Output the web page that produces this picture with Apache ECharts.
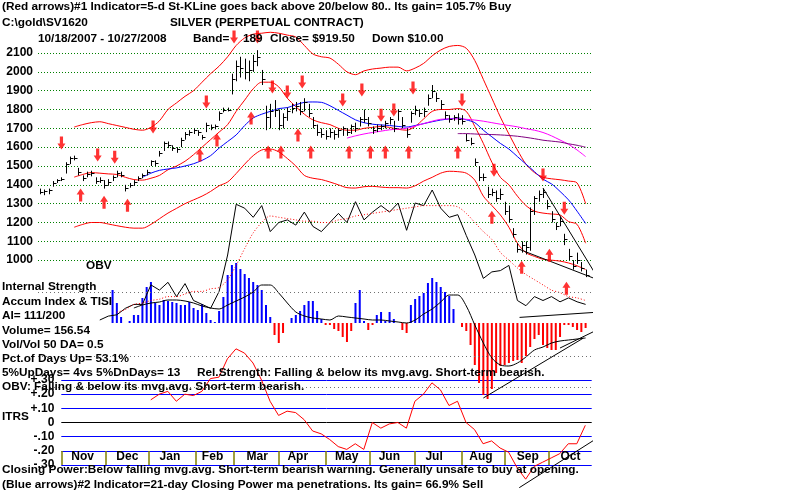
<!DOCTYPE html>
<html>
<head>
<meta charset="utf-8">
<script src="https://cdn.jsdelivr.net/npm/echarts@6/dist/echarts.min.js"></script>
<style>
  html, body { margin: 0; padding: 0; background: #fff; }
  #chart { width: 800px; height: 492px; }
</style>
</head>
<body>
<div id="chart"></div>
<script>
// one price bar every 2 trading days, starting 10/18/2007 (day 0)
const barHigh = [1380,1375,1380,1420,1430,1440,1520,1550,1555,1490,1450,1470,1475,1440,1440,1425,1430,1450,1475,1470,
  1400,1410,1425,1445,1460,1480,1530,1530,1580,1630,1630,1610,1600,1650,1680,1690,1700,1690,1665,1730,
  1720,1720,1790,1810,1810,1990,2060,2080,2070,2060,2090,2115,2010,1820,1830,1850,1800,1780,1810,1830,
  1840,1840,1860,1830,1760,1720,1700,1690,1700,1690,1700,1710,1700,1720,1730,1760,1800,1760,1710,1720,
  1720,1740,1760,1740,1800,1760,1700,1790,1820,1800,1810,1880,1930,1890,1850,1790,1770,1770,1780,1770,
  1670,1650,1540,1500,1460,1390,1380,1370,1380,1310,1290,1170,1090,1100,1100,1280,1340,1370,1380,1320,
  1260,1200,1230,1140,1060,1000,1040,990,950];
const barLow = [1350,1345,1350,1390,1410,1420,1460,1510,1530,1450,1420,1440,1445,1405,1410,1380,1395,1420,1440,1440,
  1365,1385,1395,1420,1435,1450,1500,1500,1550,1580,1595,1580,1570,1600,1640,1660,1670,1660,1640,1680,
  1690,1695,1740,1785,1790,1880,1950,1970,1960,1950,2000,2030,1930,1690,1700,1760,1690,1700,1740,1780,
  1790,1770,1790,1760,1700,1660,1650,1640,1650,1640,1650,1660,1660,1670,1680,1710,1730,1710,1670,1680,
  1690,1700,1720,1680,1740,1700,1650,1730,1770,1760,1760,1820,1860,1840,1800,1750,1730,1740,1720,1720,
  1630,1610,1500,1420,1420,1330,1340,1310,1320,1240,1200,1120,1040,1040,1030,1050,1240,1310,1330,1270,
  1200,1160,1180,1080,1000,950,980,940,910];
const barClose = [1360,1365,1370,1410,1425,1430,1510,1540,1545,1470,1435,1460,1465,1420,1425,1400,1415,1440,1465,1450,
  1385,1400,1415,1435,1450,1470,1525,1515,1570,1620,1610,1595,1590,1640,1670,1680,1690,1680,1655,1720,
  1705,1710,1780,1800,1800,1960,2030,2020,2000,2010,2060,2080,1960,1760,1790,1800,1720,1760,1790,1810,
  1820,1790,1840,1780,1720,1680,1670,1660,1680,1670,1690,1700,1680,1710,1700,1750,1750,1730,1690,1700,
  1710,1730,1750,1700,1790,1720,1670,1780,1800,1780,1790,1860,1900,1860,1830,1770,1750,1760,1750,1740,
  1640,1620,1520,1440,1440,1350,1360,1330,1350,1260,1220,1140,1060,1080,1070,1260,1330,1350,1360,1290,
  1220,1180,1210,1110,1020,970,1000,960,920];

// overlay lines, one point every 4 trading days
const upperBand = [null,null,null,null,1707,1720,1730,1735,1725,1715,1705,1695,1690,1705,1740,1800,1835,1870,1900,1945,
  1990,2030,2080,2140,2180,2200,2205,2210,2205,2195,2185,2140,2095,2080,2073,2040,2000,1985,2005,2015,
  2020,2025,2025,2005,2020,2045,2085,2116,2135,2140,2125,2060,1960,1860,1760,1670,1585,1510,1465,1440,
  1432,1427,1420,1410,1300];
const midAverage = [null,null,null,null,1441,1455,1465,1462,1458,1455,1440,1428,1425,1435,1450,1480,1500,1525,1560,1600,
  1640,1680,1720,1790,1850,1910,1945,1945,1920,1860,1815,1775,1745,1730,1720,1700,1690,1690,1700,1705,
  1710,1705,1695,1690,1710,1750,1790,1800,1800,1805,1790,1710,1620,1520,1440,1400,1340,1290,1260,1250,
  1245,1240,1205,1190,1090];
const lowerBand = [null,null,null,null,1175,1190,1200,1200,1192,1183,1175,1170,1170,1190,1220,1250,1275,1300,1320,1340,
  1365,1395,1415,1460,1510,1555,1585,1590,1575,1540,1500,1450,1435,1428,1415,1400,1385,1383,1390,1392,
  1388,1385,1385,1383,1395,1420,1440,1462,1472,1470,1462,1425,1340,1290,1240,1175,1090,1040,1020,1005,
  1000,995,985,970,950];
const blueAverage = [null,null,null,null,null,null,null,null,null,null,null,null,1440,1462,1477,1484,1490,1500,1512,1530,
  1555,1595,1630,1665,1715,1755,1775,1790,1805,1810,1825,1838,1840,1838,1820,1795,1770,1745,1730,1722,
  1718,1715,1710,1707,1715,1725,1735,1744,1750,1755,1745,1730,1690,1655,1620,1590,1550,1510,1470,1430,
  1405,1365,1320,1260,1195];
const magentaAverage = [null,null,null,null,null,null,null,null,null,null,null,null,null,null,null,null,null,null,null,null,
  null,null,null,null,null,null,null,null,null,null,null,null,null,null,null,null,1648,1660,1670,1678,
  1685,1692,1696,1700,1712,1725,1738,1748,1750,1750,1748,1744,1738,1730,1722,1715,1708,1698,1690,1678,
  1660,1638,1615,1585,1550];
const purpleAverage = [null,null,null,null,null,null,null,null,null,null,null,null,null,null,null,null,null,null,null,null,
  null,null,null,null,null,null,null,null,null,null,null,null,null,null,null,null,null,null,null,null,
  null,null,null,null,null,null,null,null,null,1672,1672,1670,1668,1667,1665,1662,1658,1652,1645,1637,
  1632,1627,1618,1610,1600];
const obv = [null,null,null,null,null,null,null,0,3,4,9,12,12,27,23,29,18,28,15,12,
  9,22,50,89,86,79,88,68,75,77,73,83,72,68,75,82,75,91,77,83,
  88,83,90,69,90,88,100,86,79,81,65,50,32,37,38,42,15,11,18,15,
  18,14,17,14,12];
const obvAverage = [null,null,null,null,null,null,null,null,null,6,8,12,13,15,16,18,18,20,22,22,
  24,25,31,42,55,67,75,80,79,78,77,76,76,75,75,77,78,80,81,82,
  83,84,85,86,87,88,88,88,88,87,82,75,68,62,52,46,40,35,31,27,
  23,21,18,17,15];
const aiAverage = [null,null,null,null,null,null,null,null,null,null,null,15,18,20,21,23,23,22,20,17,
  15,14,18,22,26,31,38,38,30,20,11,7,5,4,3,7,6,5,4,3,
  3,2,1,0,3,9,14,21,28,28,17,-2,-20,-35,-42,-43,-40,-34,-27,-24,
  -20,-18,-17,-16,-15];
const itrs = [null,null,null,null,null,null,null,null,null,null,null,null,null,0.16,0.20,0.22,0.15,0.20,0.19,0.22,
  0.31,0.32,0.45,0.52,0.49,0.42,0.30,0.15,0.05,0.08,0.07,0.02,-0.06,-0.08,-0.12,-0.17,-0.19,-0.15,-0.19,0.0,
  -0.04,-0.01,0.0,-0.04,0.15,0.20,0.28,0.23,0.12,0.15,0.0,-0.05,-0.15,-0.13,-0.18,-0.21,-0.32,-0.40,-0.31,-0.28,
  -0.25,-0.22,-0.15,-0.15,-0.02];

// accumulation index histogram, every 2 trading days
const aiBars = [null,null,null,null,null,null,null,null,null,null,null,null,null,null,null,null,null,
  33,20,6,0,2,8,8,25,36,41,20,18,23,22,21,20,18,18,21,15,
  13,19,10,3,1,12,26,48,58,60,54,49,45,41,38,33,18,6,-12,-20,
  -10,0,5,8,12,18,22,22,12,4,-2,-2,-6,-8,-14,-19,-8,20,33,2,
  -7,-2,8,11,2,11,4,0,-7,-10,18,24,27,30,40,45,41,36,31,27,
  14,0,-4,-8,-22,-42,-60,-72,-76,-66,-50,-43,-42,-40,-38,-37,-40,-33,-24,-16,
  -12,-22,-25,-27,-27,-14,-2,-2,-4,-7,-9,-5];

// signal arrows: [trading day, price]
const sellArrows = [[10,1622],[27,1558],[35,1547],[53,1707],[78,1840],[91,2185],[102,2185],[109,1920],[116,1893],
  [123,1946],[142,1850],[151,1903],[160,1770],[166,1797],[175,1914],[198,1850],[213,1478],[236,1452],[246,1276]];
const buyArrows = [[19,1346],[30,1308],[41,1292],[75,1558],[83,1638],[99,1755],[107,1574],[113,1574],[121,1664],
  [127,1574],[145,1574],[155,1574],[162,1574],[173,1574],[196,1574],[212,1228],[226,963],[239,1026],[247,851]];

// hand drawn trend lines: [trading day, value]
const priceWedgeTop = [[236,1383],[261.5,910]];
const priceWedgeBottom = [[225,1057],[261.5,897]];
const obvTrend = [[225,2],[261.5,6]];
const aiTrendLow = [[208,-75],[255,-15]];
const aiTrendHigh = [[244,-25],[269,1]];
const itrsTrend = [[225,-0.46],[271,-0.02]];

const monthStarts = [10, 31, 51, 73, 91, 112, 134, 155, 176, 198, 218, 239];
const monthMids = [20, 41, 61, 81, 102, 121, 144, 164, 185, 207, 229, 249];
const monthNames = ['Nov','Dec','Jan','Feb','Mar','Apr','May','Jun','Jul','Aug','Sep','Oct'];

const textLines = [
  [2, 7, '(Red arrows)#1 Indicator=5-d St-KLine goes back above 20/below 80.. Its gain= 105.7% Buy'],
  [2, 23, 'C:\\gold\\SV1620'],
  [170, 23, 'SILVER (PERPETUAL CONTRACT)'],
  [38, 39, '10/18/2007 - 10/27/2008'],
  [193, 39, 'Band='],
  [243, 39, '189'],
  [270, 39, 'Close= $919.50'],
  [372, 39, 'Down $10.00'],
  [86, 266, 'OBV'],
  [2, 287, 'Internal Strength'],
  [2, 302, 'Accum Index & TISI'],
  [2, 316, 'AI= 111/200'],
  [2, 331, 'Volume= 156.54'],
  [2, 345, 'Vol/Vol 50 DA= 0.5'],
  [2, 359, 'Pct.of Days Up= 53.1%'],
  [2, 373, '5%UpDays= 4vs 5%DnDays= 13'],
  [197, 373, 'Rel.Strength: Falling & below its mvg.avg. Short-term bearish.'],
  [2, 387, 'OBV: Falling & below its mvg.avg. Short-term bearish.'],
  [2, 417, 'ITRS'],
  [2, 470, 'Closing Power:Below falling mvg.avg. Short-term bearish warning. Generally unsafe to buy at opening.'],
  [2, 485, '(Blue arrows)#2 Indicator=21-day Closing Power ma penetrations. Its gain= 66.9% Sell'],
];

const FONT = '"Liberation Sans", Arial, sans-serif';
const RED = '#ff0000';
const BLUE = '#0000ff';

const chart = echarts.init(document.getElementById('chart'), null, { renderer: 'canvas' });

function every4(arr) {
  return arr.map((v, i) => [i * 4, v]);
}

function lineSeries(name, data, color, axis, extra) {
  return Object.assign({
    name,
    type: 'line',
    xAxisIndex: axis,
    yAxisIndex: axis,
    data,
    symbol: 'none',
    showSymbol: false,
    clip: false,
    silent: true,
    smooth: 0.3,
    lineStyle: { color, width: 1 },
    z: 3,
  }, extra || {});
}

const barRows = barHigh.map((h, j) => [j * 2, h, barLow[j], barClose[j]]);

const aiData = aiBars.map((v, j) => (v === null ? null : {
  value: [j * 2, v],
  itemStyle: { color: v >= 0 ? BLUE : RED },
}));

function itrsLabel(v) {
  const r = Math.round(v * 100);
  if (r === 0) return '0';
  const s = String(Math.abs(r)).padStart(2, '0');
  return (r > 0 ? '+.' : '-.') + s;
}

const sameX = { type: 'value', min: -1, max: 259, show: false };

const option = {
  animation: false,
  backgroundColor: '#fff',
  grid: [
    { left: 38, top: 53, width: 554, height: 226 },
    { left: 38, top: 190, width: 554, height: 130 },
    { left: 38, top: 292, width: 554, height: 95 },
    { left: 61.3, top: 380, width: 530.4, height: 85 },
  ],
  xAxis: [
    Object.assign({ gridIndex: 0 }, sameX),
    Object.assign({ gridIndex: 1 }, sameX),
    Object.assign({ gridIndex: 2 }, sameX),
    {
      gridIndex: 3,
      type: 'value',
      min: 10,
      max: 259,
      position: 'bottom',
      axisLine: { show: false, onZero: false },
      splitLine: { show: false },
      axisTick: {
        show: true,
        inside: true,
        length: 14,
        customValues: monthStarts,
        lineStyle: { color: '#808000', width: 1.5 },
      },
      axisLabel: {
        show: true,
        inside: true,
        margin: 2,
        customValues: monthMids,
        formatter: (v) => monthNames[monthMids.indexOf(v)] || '',
        color: '#000',
        fontWeight: 'bold',
        fontSize: 12,
        fontFamily: FONT,
      },
    },
  ],
  yAxis: [
    {
      gridIndex: 0,
      type: 'value',
      min: 900,
      max: 2100,
      interval: 100,
      axisLine: { show: false },
      axisTick: { show: false },
      axisLabel: {
        color: '#000', fontWeight: 'bold', fontSize: 12, fontFamily: FONT, margin: 5,
        formatter: (v) => (v === 900 ? '' : String(v)),
      },
      splitLine: {
        show: true,
        lineStyle: {
          type: [1, 2],
          width: 1,
          color: ['rgba(0,0,0,0)', '#008000', '#008000', '#008000', '#008000', '#008000', '#008000',
            '#008000', '#008000', '#008000', '#008000', '#008000', '#008000'],
        },
      },
    },
    { gridIndex: 1, type: 'value', min: 0, max: 100, show: false },
    { gridIndex: 2, type: 'value', min: -64, max: 31, show: false },
    {
      gridIndex: 3,
      type: 'value',
      min: -0.3,
      max: 0.3,
      interval: 0.1,
      axisLine: { show: false },
      axisTick: { show: false },
      axisLabel: {
        color: '#000', fontWeight: 'bold', fontSize: 12, fontFamily: FONT, margin: 7,
        padding: [0, 0, 8, 0],
        formatter: itrsLabel,
      },
      splitLine: {
        show: true,
        lineStyle: { width: 1, color: [BLUE, BLUE, BLUE, '#000', BLUE, BLUE, BLUE] },
      },
    },
  ],
  series: [
    // price panel
    lineSeries('upper band', every4(upperBand), RED, 0),
    lineSeries('lower band', every4(lowerBand), RED, 0),
    lineSeries('21-day ma', every4(midAverage), RED, 0),
    lineSeries('50-day ma', every4(blueAverage), BLUE, 0),
    lineSeries('magenta ma', every4(magentaAverage), '#ff00ff', 0),
    lineSeries('purple ma', every4(purpleAverage), '#800080', 0),
    {
      name: 'price',
      type: 'custom',
      xAxisIndex: 0,
      yAxisIndex: 0,
      clip: false,
      silent: true,
      z: 4,
      data: barRows,
      encode: { x: 0, y: [1, 2, 3] },
      renderItem(params, api) {
        const day = api.value(0);
        const top = api.coord([day, api.value(1)]);
        const bottom = api.coord([day, api.value(2)]);
        const close = api.coord([day, api.value(3)]);
        const x = Math.round(top[0]) + 0.5;
        const yc = Math.round(close[1]) + 0.5;
        return {
          type: 'group',
          children: [
            { type: 'line', shape: { x1: x, y1: top[1], x2: x, y2: bottom[1] }, style: { stroke: '#000', lineWidth: 1 } },
            { type: 'line', shape: { x1: x, y1: yc, x2: x + 3, y2: yc }, style: { stroke: '#000', lineWidth: 1 } },
          ],
        };
      },
    },
    lineSeries('wedge top', priceWedgeTop, '#000', 0, { smooth: false }),
    lineSeries('wedge bottom', priceWedgeBottom, '#000', 0, { smooth: false }),
    {
      name: 'sell arrows',
      type: 'scatter',
      xAxisIndex: 0,
      yAxisIndex: 0,
      clip: false,
      silent: true,
      z: 6,
      symbol: 'path://M3,0L7,0L7,7L10,7L5,13L0,7L3,7Z',
      symbolSize: [8, 13],
      itemStyle: { color: RED },
      data: sellArrows,
    },
    {
      name: 'buy arrows',
      type: 'scatter',
      xAxisIndex: 0,
      yAxisIndex: 0,
      clip: false,
      silent: true,
      z: 6,
      symbol: 'path://M5,0L10,6L7,6L7,13L3,13L3,6L0,6Z',
      symbolSize: [8, 13],
      itemStyle: { color: RED },
      data: buyArrows,
    },
    // OBV
    lineSeries('obv', every4(obv), '#000', 1, { smooth: false }),
    lineSeries('obv ma', every4(obvAverage), RED, 1, { lineStyle: { color: RED, width: 1, type: [1, 2] } }),
    lineSeries('obv trend', obvTrend, '#000', 1, { smooth: false }),
    // accumulation index
    {
      name: 'ai',
      type: 'bar',
      xAxisIndex: 2,
      yAxisIndex: 2,
      clip: false,
      silent: true,
      barWidth: 2,
      data: aiData,
      z: 2,
      markLine: {
        silent: true,
        symbol: 'none',
        label: { show: false },
        lineStyle: { color: '#707070', type: [1, 3], width: 1 },
        data: [{ yAxis: 31 }, { yAxis: -33 }, { yAxis: -64 }],
      },
    },
    lineSeries('ai ma', every4(aiAverage), '#000', 2),
    lineSeries('ai trend low', aiTrendLow, '#000', 2, { smooth: false }),
    lineSeries('ai trend high', aiTrendHigh, '#000', 2, { smooth: false }),
    // ITRS
    lineSeries('itrs', every4(itrs), RED, 3, { smooth: false }),
    lineSeries('itrs trend', itrsTrend, '#000', 3, { smooth: false }),
  ],
  graphic: textLines.map(([x, y, text]) => ({
    type: 'text',
    x,
    y,
    z: 100,
    silent: true,
    style: {
      text,
      fill: '#000',
      font: 'bold 11.8px ' + FONT,
      verticalAlign: 'middle',
    },
  })),
};

chart.setOption(option);
</script>
</body>
</html>
